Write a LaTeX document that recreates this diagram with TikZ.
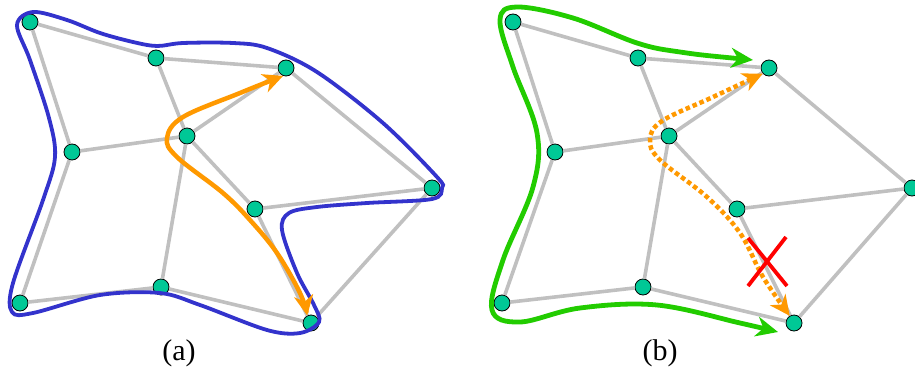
\documentclass[tikz,border=0pt]{standalone}
\usepackage{fontspec}
\setmainfont{Liberation Serif}
\usetikzlibrary{arrows.meta}

\definecolor{vtxfill}{RGB}{0,200,150}
\definecolor{linkgray}{RGB}{192,192,192}
\definecolor{hullblue}{RGB}{51,51,204}
\definecolor{pathorange}{RGB}{255,153,0}
\definecolor{pathgreen}{RGB}{34,204,0}

\begin{document}
\begin{tikzpicture}[
    x=1pt, y=-1pt,
    vtx/.style={circle, draw, line width=0.8pt, fill=vtxfill, minimum size=16pt, inner sep=0pt},
    link/.style={draw=linkgray, line width=3.6pt},
    hull/.style={draw=hullblue, line width=3.8pt},
    route/.style={draw=pathorange, line width=4.5pt, arrows={Stealth[length=20pt,width=19pt,inset=6pt]-Stealth[length=20pt,width=19pt,inset=6pt]}},
    dotroute/.style={route, dash pattern=on 4.5pt off 3pt},
    detour/.style={draw=pathgreen, line width=4.8pt, arrows={Stealth[length=22pt,width=20pt,inset=7pt]-Stealth[length=22pt,width=20pt,inset=7pt]}},
    caption/.style={font=\fontsize{30}{33}\selectfont, anchor=base}
]
    \useasboundingbox (0,0) rectangle (915,372);

    % (a)
    \node[vtx] (a1) at (30,22) {};
    \node[vtx] (a2) at (156,58) {};
    \node[vtx] (a3) at (286,68) {};
    \node[vtx] (a4) at (72,152) {};
    \node[vtx] (a5) at (187,136) {};
    \node[vtx] (a6) at (432,188) {};
    \node[vtx] (a7) at (255,209) {};
    \node[vtx] (a8) at (20,303) {};
    \node[vtx] (a9) at (161,287) {};
    \node[vtx] (a10) at (311,323) {};
    \draw[link] (a1) -- (a2) -- (a3) -- (a6) -- (a10) -- (a9) -- (a8) -- (a4) -- (a1)
        (a4) -- (a5) -- (a3) (a2) -- (a5) -- (a9) (a5) -- (a7) -- (a6) (a7) -- (a10);
    \draw[hull] plot[smooth cycle, tension=0.55] coordinates {
        (33,12) (67,20) (100,33) (133,42) (157,46) (183,43) (233,43) (267,48)
        (317,72) (383,123) (437,177) (442,188) (432,199) (367,203) (317,207)
        (289,213) (282,230) (297,273) (314,305) (319,322) (300,333) (267,330)
        (200,305) (160,293) (100,295) (33,313) (12,312) (13,283) (43,200)
        (55,157) (49,118) (30,60) (17,25)};
    \draw[route] plot[smooth, tension=0.6] coordinates {
        (a3.250) (240,93) (183,117) (167,138) (177,157) (223,193) (250,220)
        (277,253) (300,293) (a10.117)};
    \node[caption] (capa) at (179,360) {(a)};

    % (b)
    \node[vtx] (b1) at (513,22) {};
    \node[vtx] (b2) at (638,58) {};
    \node[vtx] (b3) at (769,68) {};
    \node[vtx] (b4) at (555,152) {};
    \node[vtx] (b5) at (669,136) {};
    \node[vtx] (b6) at (912,188) {};
    \node[vtx] (b7) at (737,209) {};
    \node[vtx] (b8) at (502,303) {};
    \node[vtx] (b9) at (643,287) {};
    \node[vtx] (b10) at (794,323) {};
    \draw[link] (b1) -- (b2) -- (b3) -- (b6) -- (b10) -- (b9) -- (b8) -- (b4) -- (b1)
        (b4) -- (b5) -- (b3) (b2) -- (b5) -- (b9) (b5) -- (b7) -- (b6) (b7) -- (b10);
    \draw[detour] plot[smooth, tension=0.6] coordinates {
        (753,60) (680,52) (637,43) (573,18) (517,7) (500,20) (513,67) (537,133)
        (533,187) (503,260) (492,310) (520,322) (580,308) (657,305) (740,323) (778,332)};
    \draw[dotroute] plot[smooth, tension=0.6] coordinates {
        (b3.222) (713,97) (662,121) (650,140) (660,160) (707,197) (740,233)
        (763,277) (b10.121)};
    \draw[red, line width=3.8pt] (748,238) -- (787,286) (786,237) -- (748,286);
    \node[caption] (capb) at (660,360) {(b)};
\end{tikzpicture}
\end{document}
